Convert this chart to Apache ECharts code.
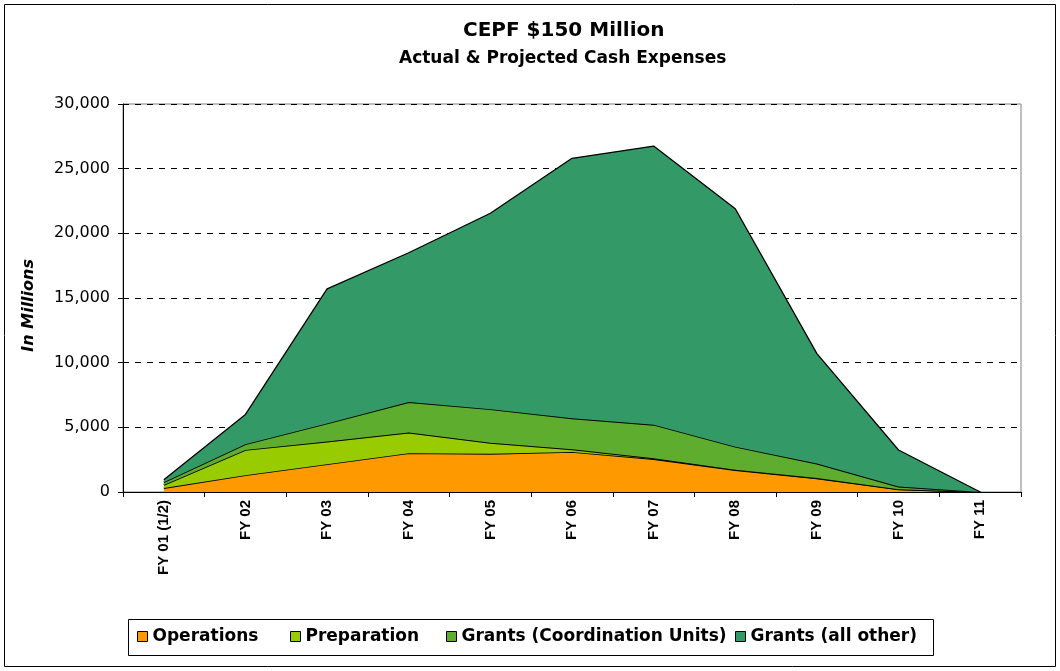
<!DOCTYPE html>
<html><head><meta charset="utf-8">
<script src="https://cdn.jsdelivr.net/npm/echarts@6/dist/echarts.min.js"></script>
<style>html,body{margin:0;padding:0;background:#fff}#c{width:1060px;height:671px}</style>
</head><body><div id="c"></div>
<script>
const categories = ['FY 01 (1/2)','FY 02','FY 03','FY 04','FY 05','FY 06','FY 07','FY 08','FY 09','FY 10','FY 11'];
const operations = [300,1300,2150,3000,2950,3100,2550,1700,1050,200,0];
const preparation = [250,1950,1750,1600,850,200,50,30,30,20,0];
const grantsCU = [200,450,1400,2350,2600,2400,2600,1770,1120,200,0];
const grantsOther = [200,2300,10400,11550,15150,20100,21550,18400,8500,2830,0];
const seriesNames = ['Operations','Preparation','Grants (Coordination Units)','Grants (all other)'];
const seriesData = [operations, preparation, grantsCU, grantsOther];
const colors = ['#FF9900','#99CC00','#5FAD2F','#339966'];
const legendLefts = [137, 290, 446, 735];

const WIDE = '"DejaVu Sans", Verdana, sans-serif';
const ARIAL = '"Liberation Sans", Arial, sans-serif';
const chart = echarts.init(document.getElementById('c'));
chart.setOption({
  animation: false,
  title: [
    {text: 'CEPF $150 Million', left: 458, top: 16, textStyle:{fontFamily:WIDE, fontSize:20, fontWeight:'bold', color:'#000'}},
    {text: 'Actual & Projected Cash Expenses', left: 394, top: 45, textStyle:{fontFamily:WIDE, fontSize:17, fontWeight:'bold', color:'#000'}}
  ],
  graphic: [
    {type:'rect', shape:{x:4.5,y:4.5,width:1051,height:662}, style:{fill:'none', stroke:'#000', lineWidth:1}, z:-1},
    {type:'rect', shape:{x:128.5,y:619.5,width:805,height:36}, style:{fill:'#fff', stroke:'#000', lineWidth:1}, z:-1},
    {type:'text', left:21, top:259, rotation:Math.PI/2, style:{text:'In Millions', font:'italic bold 16px "DejaVu Sans", Verdana, sans-serif', fill:'#000'}}
  ],
  legend: seriesNames.map((n,i)=>({
    data:[n], left: legendLefts[i], top: 628, itemWidth:10, itemHeight:10, itemGap:0, padding:0,
    icon:'rect', itemStyle:{borderColor:'#000', borderWidth:1},
    textStyle:{fontFamily:WIDE, fontSize:17, fontWeight:'bold', color:'#000'}
  })),
  grid: {left:123, right:39, top:104, bottom:179, show:true, borderColor:'#808080', borderWidth:1},
  xAxis: {
    type:'category', data:categories, boundaryGap:true,
    axisLine:{lineStyle:{color:'#000', width:1}},
    axisTick:{show:true, length:5, lineStyle:{color:'#000'}},
    axisLabel:{rotate:90, fontFamily:ARIAL, fontSize:15, fontWeight:'bold', color:'#000', margin:8, interval:0}
  },
  yAxis: {
    type:'value', min:0, max:30000, interval:5000,
    axisLine:{show:true, lineStyle:{color:'#000', width:1}},
    axisTick:{show:true, length:5, lineStyle:{color:'#000'}},
    axisLabel:{fontFamily:WIDE, fontSize:16, color:'#000', margin:13, formatter:v=>v.toLocaleString('en-US')},
    splitLine:{show:true, lineStyle:{color:'#000', type:[6,6], width:1}}
  },
  series: seriesData.map((d,i)=>({
    name: seriesNames[i], type:'line', stack:'total', data:d, symbol:'none',
    itemStyle:{color:colors[i]},
    lineStyle:{color:'#000', width: i===3 ? 1.3 : 1.8},
    areaStyle:{color:colors[i], opacity:1},
    z: 2 + i
  }))
});
</script></body></html>
